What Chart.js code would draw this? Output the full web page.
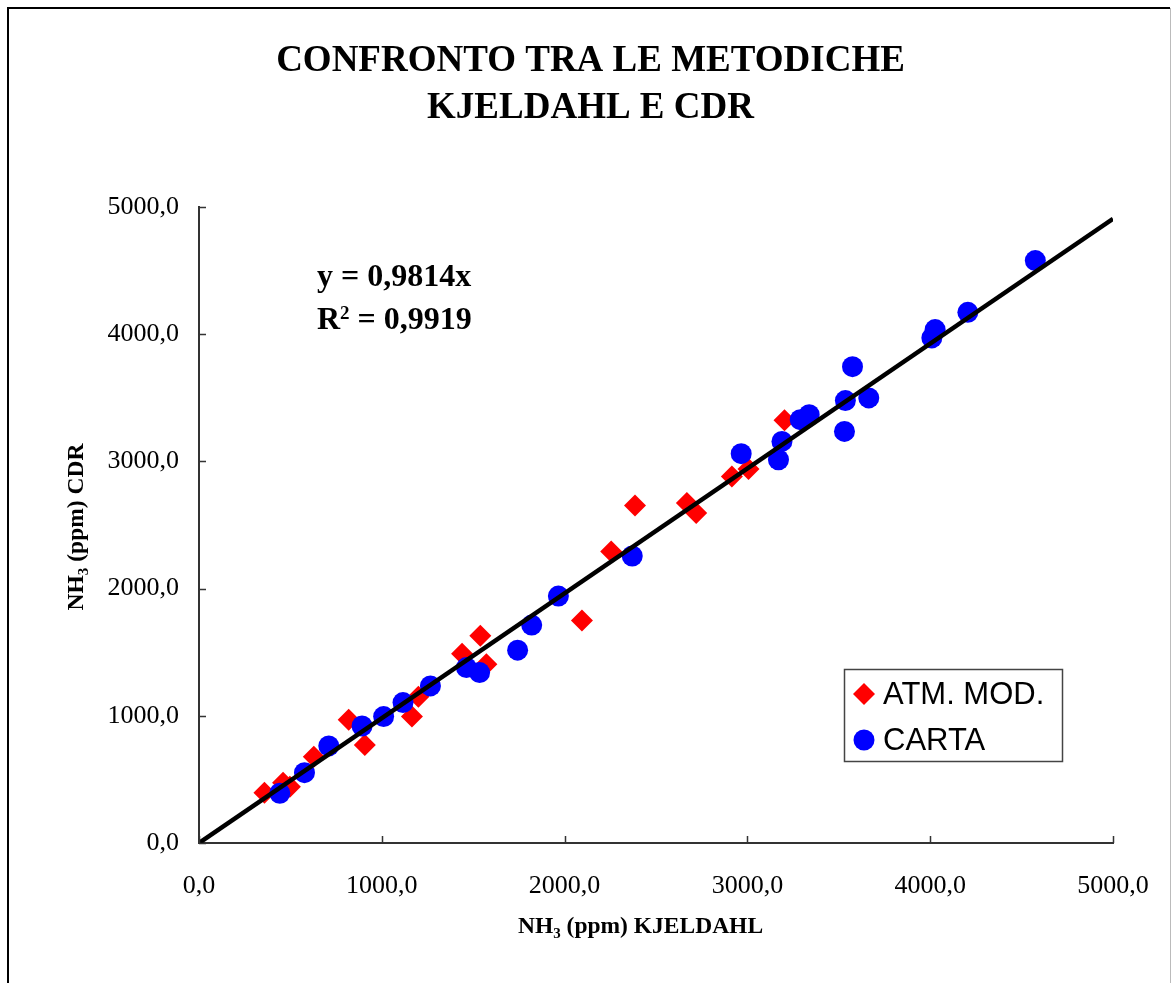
<!DOCTYPE html>
<html>
<head>
<meta charset="utf-8">
<script src="https://cdn.jsdelivr.net/npm/chart.js@4/dist/chart.umd.min.js"></script>
<style>
  html, body { margin: 0; padding: 0; background: #fff; }
  canvas { display: block; }
</style>
</head>
<body>
<canvas id="chart" width="1171" height="983"></canvas>
<script>
// NH3 (ppm): Kjeldahl method (x) against CDR method (y)
const atmModX = [358, 460, 497, 628, 819, 907, 1165, 1200, 1439, 1539, 1572, 2095, 2255, 2385, 2669, 2720, 2915, 3006, 3203];
const atmModY = [396, 474, 443, 679, 968, 771, 994, 1149, 1487, 1629, 1406, 1749, 2292, 2654, 2673, 2594, 2882, 2940, 3323];

const cartaX = [442, 577, 710, 892, 1010, 1116, 1266, 1463, 1535, 1743, 1820, 1966, 2370, 2966, 3170, 3189, 3289, 3338, 3531, 3536, 3575, 3664, 4009, 4027, 4206, 4575];
const cartaY = [391, 553, 763, 920, 994, 1104, 1235, 1379, 1340, 1516, 1713, 1941, 2256, 3061, 3013, 3157, 3328, 3367, 3236, 3478, 3745, 3499, 3971, 4036, 4172, 4579];

// Linear fit through the origin
const fitSlope = 0.9814;
const fitR2 = 0.9919;

const tickValues = [0, 1000, 2000, 3000, 4000, 5000];
const seriesNames = ['ATM. MOD.', 'CARTA'];
const titleLines = ['CONFRONTO TRA LE METODICHE', 'KJELDAHL E CDR'];

const SERIF = '"Liberation Serif", "Times New Roman", serif';
const SANS = '"Liberation Sans", Arial, sans-serif';

const toPoints = (xs, ys) => xs.map((x, i) => ({ x, y: ys[i] }));
const fmt = v => Number(v).toFixed(1).replace('.', ',');
const axisMin = tickValues[0];
const axisMax = tickValues[tickValues.length - 1];

// Draws a run of text pieces (normal / sub / superscript) left-aligned at x
function runWidth(ctx, parts) {
  let w = 0;
  for (const p of parts) { ctx.font = p.font; w += ctx.measureText(p.t).width; }
  return w;
}
function drawRun(ctx, parts, x, y) {
  let cx = x;
  for (const p of parts) {
    ctx.font = p.font;
    ctx.fillText(p.t, cx, y + (p.dy || 0));
    cx += ctx.measureText(p.t).width;
  }
}

const decorPlugin = {
  id: 'decor',
  beforeDraw(chart) {
    const ctx = chart.ctx;
    ctx.save();
    ctx.fillStyle = '#fff';
    ctx.fillRect(0, 0, chart.width, chart.height);
    // outer frame
    ctx.strokeStyle = '#000';
    ctx.lineWidth = 2;
    ctx.beginPath();
    ctx.moveTo(8, chart.height + 5);
    ctx.lineTo(8, 8);
    ctx.lineTo(1170, 8);
    ctx.stroke();
    ctx.strokeStyle = '#bbb';
    ctx.lineWidth = 1;
    ctx.beginPath();
    ctx.moveTo(1170.5, 8);
    ctx.lineTo(1170.5, chart.height + 5);
    ctx.stroke();
    ctx.restore();
  },
  afterDraw(chart) {
    const ctx = chart.ctx;
    const xs = chart.scales.x, ys = chart.scales.y;
    ctx.save();

    // inward tick marks
    ctx.strokeStyle = '#333';
    ctx.lineWidth = 1.5;
    ctx.beginPath();
    for (const v of tickValues) {
      const px = Math.round(xs.getPixelForValue(v)) + 0.5;
      ctx.moveTo(px, ys.bottom);
      ctx.lineTo(px, ys.bottom - 7);
      const py = Math.round(ys.getPixelForValue(v)) + 0.5;
      ctx.moveTo(xs.left, py);
      ctx.lineTo(xs.left + 7, py);
    }
    ctx.stroke();

    ctx.fillStyle = '#000';
    ctx.textBaseline = 'alphabetic';

    // title
    ctx.textAlign = 'center';
    ctx.font = 'bold 37px ' + SERIF;
    ctx.fillText(titleLines[0], 590.5, 71);
    ctx.fillText(titleLines[1], 590.5, 118);

    // fit equation
    ctx.textAlign = 'left';
    ctx.font = 'bold 32px ' + SERIF;
    ctx.fillText('y = ' + fitSlope.toFixed(4).replace('.', ',') + 'x', 317, 286);
    drawRun(ctx, [
      { t: 'R', font: 'bold 32px ' + SERIF },
      { t: '2', font: 'bold 19px ' + SERIF, dy: -10 },
      { t: ' = ' + fitR2.toFixed(4).replace('.', ','), font: 'bold 32px ' + SERIF }
    ], 317, 329);

    // axis titles with subscript
    const big = 'bold 23.5px ' + SERIF, small = 'bold 15px ' + SERIF;
    const xTitle = [
      { t: 'NH', font: big }, { t: '3', font: small, dy: 5 }, { t: ' (ppm) KJELDAHL', font: big }
    ];
    const xw = runWidth(ctx, xTitle);
    drawRun(ctx, xTitle, 640.5 - xw / 2, 933);

    const yTitle = [
      { t: 'NH', font: big }, { t: '3', font: small, dy: 5 }, { t: ' (ppm) CDR', font: big }
    ];
    const yw = runWidth(ctx, yTitle);
    ctx.save();
    ctx.translate(83, 527);
    ctx.rotate(-Math.PI / 2);
    drawRun(ctx, yTitle, -yw / 2, 0);
    ctx.restore();

    // legend
    ctx.strokeStyle = '#444';
    ctx.lineWidth = 1.5;
    ctx.strokeRect(844.5, 669.5, 218, 92);
    const ds = chart.data.datasets;
    const rows = [{ d: ds[1], y: 694 }, { d: ds[2], y: 740 }];
    for (const r of rows) {
      const d = r.d;
      ctx.fillStyle = d.backgroundColor;
      ctx.beginPath();
      if (d.pointStyle === 'rectRot') {
        const s = d.pointRadius;
        ctx.moveTo(864 - s, r.y);
        ctx.lineTo(864, r.y - s);
        ctx.lineTo(864 + s, r.y);
        ctx.lineTo(864, r.y + s);
        ctx.closePath();
      } else {
        ctx.arc(864, r.y, d.pointRadius, 0, Math.PI * 2);
      }
      ctx.fill();
      ctx.fillStyle = '#000';
      ctx.font = '31px ' + SANS;
      ctx.fillText(d.label, 883, r.y + 9.5);
    }
    ctx.restore();
  }
};

new Chart(document.getElementById('chart'), {
  type: 'scatter',
  data: {
    datasets: [
      {
        label: 'y = ' + fitSlope + 'x',
        data: [{ x: axisMin, y: fitSlope * axisMin }, { x: axisMax, y: fitSlope * axisMax }],
        showLine: true,
        borderColor: '#000',
        borderWidth: 4.5,
        pointRadius: 0,
        order: 0
      },
      {
        label: seriesNames[0],
        data: toPoints(atmModX, atmModY),
        pointStyle: 'rectRot',
        pointRadius: 11,
        backgroundColor: '#ff0000',
        borderWidth: 0,
        order: 2
      },
      {
        label: seriesNames[1],
        data: toPoints(cartaX, cartaY),
        pointStyle: 'circle',
        pointRadius: 10.5,
        backgroundColor: '#0000ff',
        borderWidth: 0,
        order: 1
      }
    ]
  },
  options: {
    responsive: false,
    animation: false,
    events: [],
    layout: { padding: { left: 0, top: 207, right: 58, bottom: 0 } },
    plugins: {
      legend: { display: false },
      title: { display: false },
      tooltip: { enabled: false }
    },
    scales: {
      x: {
        type: 'linear',
        min: axisMin,
        max: axisMax,
        afterBuildTicks: s => { s.ticks = tickValues.map(v => ({ value: v })); },
        ticks: {
          callback: fmt,
          font: { family: SERIF, size: 26 },
          color: '#000',
          padding: 28,
          maxRotation: 0,
          autoSkip: false
        },
        grid: { display: false, drawTicks: false },
        border: { display: true, color: '#333', width: 2 },
        afterFit: s => { s.height = 140; s.paddingLeft = 0; s.paddingRight = 0; }
      },
      y: {
        type: 'linear',
        min: axisMin,
        max: axisMax,
        afterBuildTicks: s => { s.ticks = tickValues.map(v => ({ value: v })); },
        ticks: {
          callback: fmt,
          font: { family: SERIF, size: 26 },
          color: '#000',
          padding: 20,
          autoSkip: false
        },
        grid: { display: false, drawTicks: false },
        border: { display: true, color: '#333', width: 2 },
        afterFit: s => { s.width = 199; }
      }
    }
  },
  plugins: [decorPlugin]
});
</script>
</body>
</html>
